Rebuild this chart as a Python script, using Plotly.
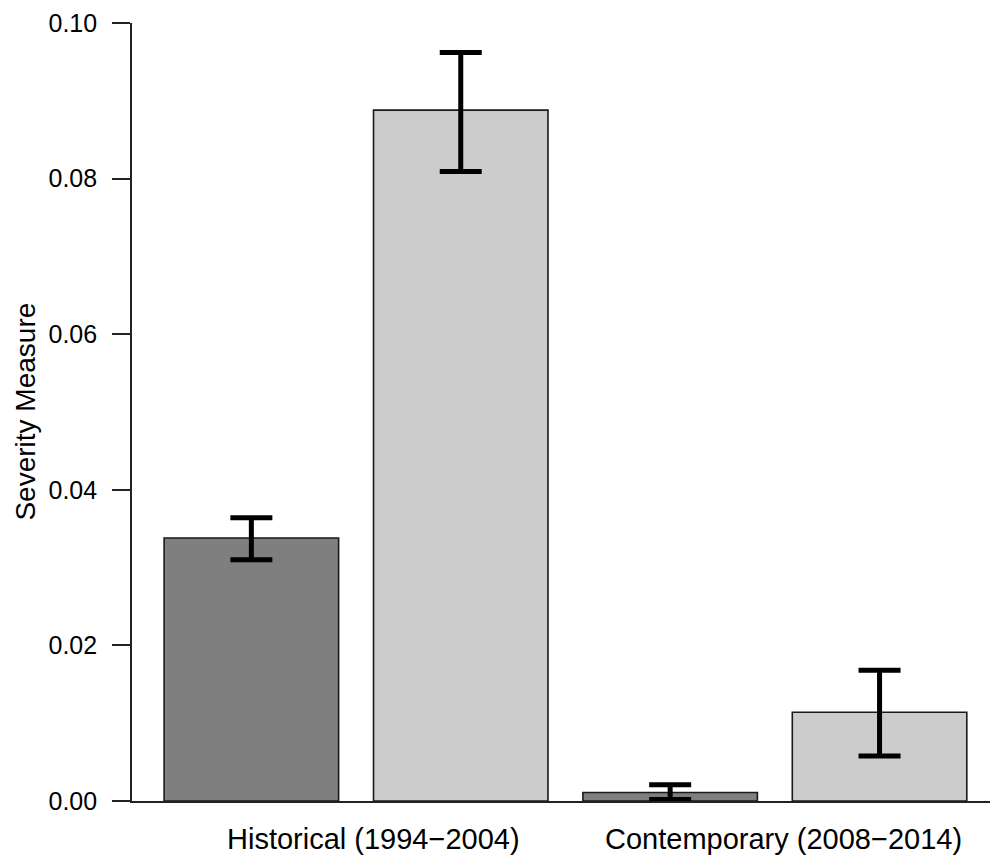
import plotly.graph_objects as go

# ---- data ----
groups = ["Historical (1994\u22122004)", "Contemporary (2008\u22122014)"]
dark_vals = [0.0338, 0.0011]
dark_err_up = [0.0026, 0.0010]
dark_err_down = [0.0028, 0.0009]
light_vals = [0.0888, 0.0114]
light_err_up = [0.0074, 0.0054]
light_err_down = [0.0079, 0.0056]
y_ticks = [0.00, 0.02, 0.04, 0.06, 0.08, 0.10]

# ---- layout helpers (R barplot style: width 1, space 0.2) ----
space = 0.2
n_series = 2
def bar_center(g, s):
    i = g * n_series + s
    return space + i * (1 + space) + 0.5

dark_x = [bar_center(g, 0) for g in range(len(groups))]
light_x = [bar_center(g, 1) for g in range(len(groups))]
label_x = [1.4, 3.75]

W, H = 990, 857
left, right, top, bottom = 131.5, 0, 23.3, 56
unit_px = 174.6
x_lo = 0.016
x_hi = x_lo + (W - left - right) / unit_px

font_family = "Liberation Sans, Arial, Helvetica, sans-serif"

err_style = dict(type="data", symmetric=False, color="black", thickness=5, width=21)

fig = go.Figure()
fig.add_trace(go.Bar(
    x=dark_x, y=dark_vals, width=1,
    marker=dict(color="#7f7f7f", line=dict(color="#1a1a1a", width=1.6)),
    error_y=dict(array=dark_err_up, arrayminus=dark_err_down, **err_style),
    showlegend=False,
))
fig.add_trace(go.Bar(
    x=light_x, y=light_vals, width=1,
    marker=dict(color="#cccccc", line=dict(color="#1a1a1a", width=1.6)),
    error_y=dict(array=light_err_up, arrayminus=light_err_down, **err_style),
    showlegend=False,
))

for gx, name in zip(label_x, groups):
    fig.add_annotation(
        x=gx, y=(801 - 839) / (801 - 23.3), xref="x", yref="paper",
        text=name, showarrow=False, xanchor="center", yanchor="middle",
        font=dict(family=font_family, size=29, color="black"),
    )

fig.add_annotation(
    x=(24 - left) / (W - left - right), y=0.5, xref="paper", yref="paper",
    text="Severity Measure", textangle=-90, showarrow=False,
    xanchor="center", yanchor="middle",
    font=dict(family=font_family, size=28, color="black"),
)

fig.update_layout(
    width=W, height=H,
    margin=dict(l=left, r=right, t=top, b=bottom, pad=0),
    paper_bgcolor="white", plot_bgcolor="white",
    barmode="overlay",
    font=dict(family=font_family, color="black"),
    xaxis=dict(
        range=[x_lo, x_hi], showgrid=False, zeroline=False,
        showticklabels=False, ticks="",
        showline=True, linecolor="#222222", linewidth=1.6,
    ),
    yaxis=dict(
        range=[y_ticks[0], y_ticks[-1]], showgrid=False, zeroline=False,
        tickvals=y_ticks, tickformat=".2f",
        ticks="outside", ticklen=18, tickwidth=1.6, tickcolor="#222222",
        showline=True, linecolor="#222222", linewidth=1.6,
        tickfont=dict(family=font_family, size=25, color="black"),
        ticklabelstandoff=10,
    ),
)

fig.write_html("out.html")
